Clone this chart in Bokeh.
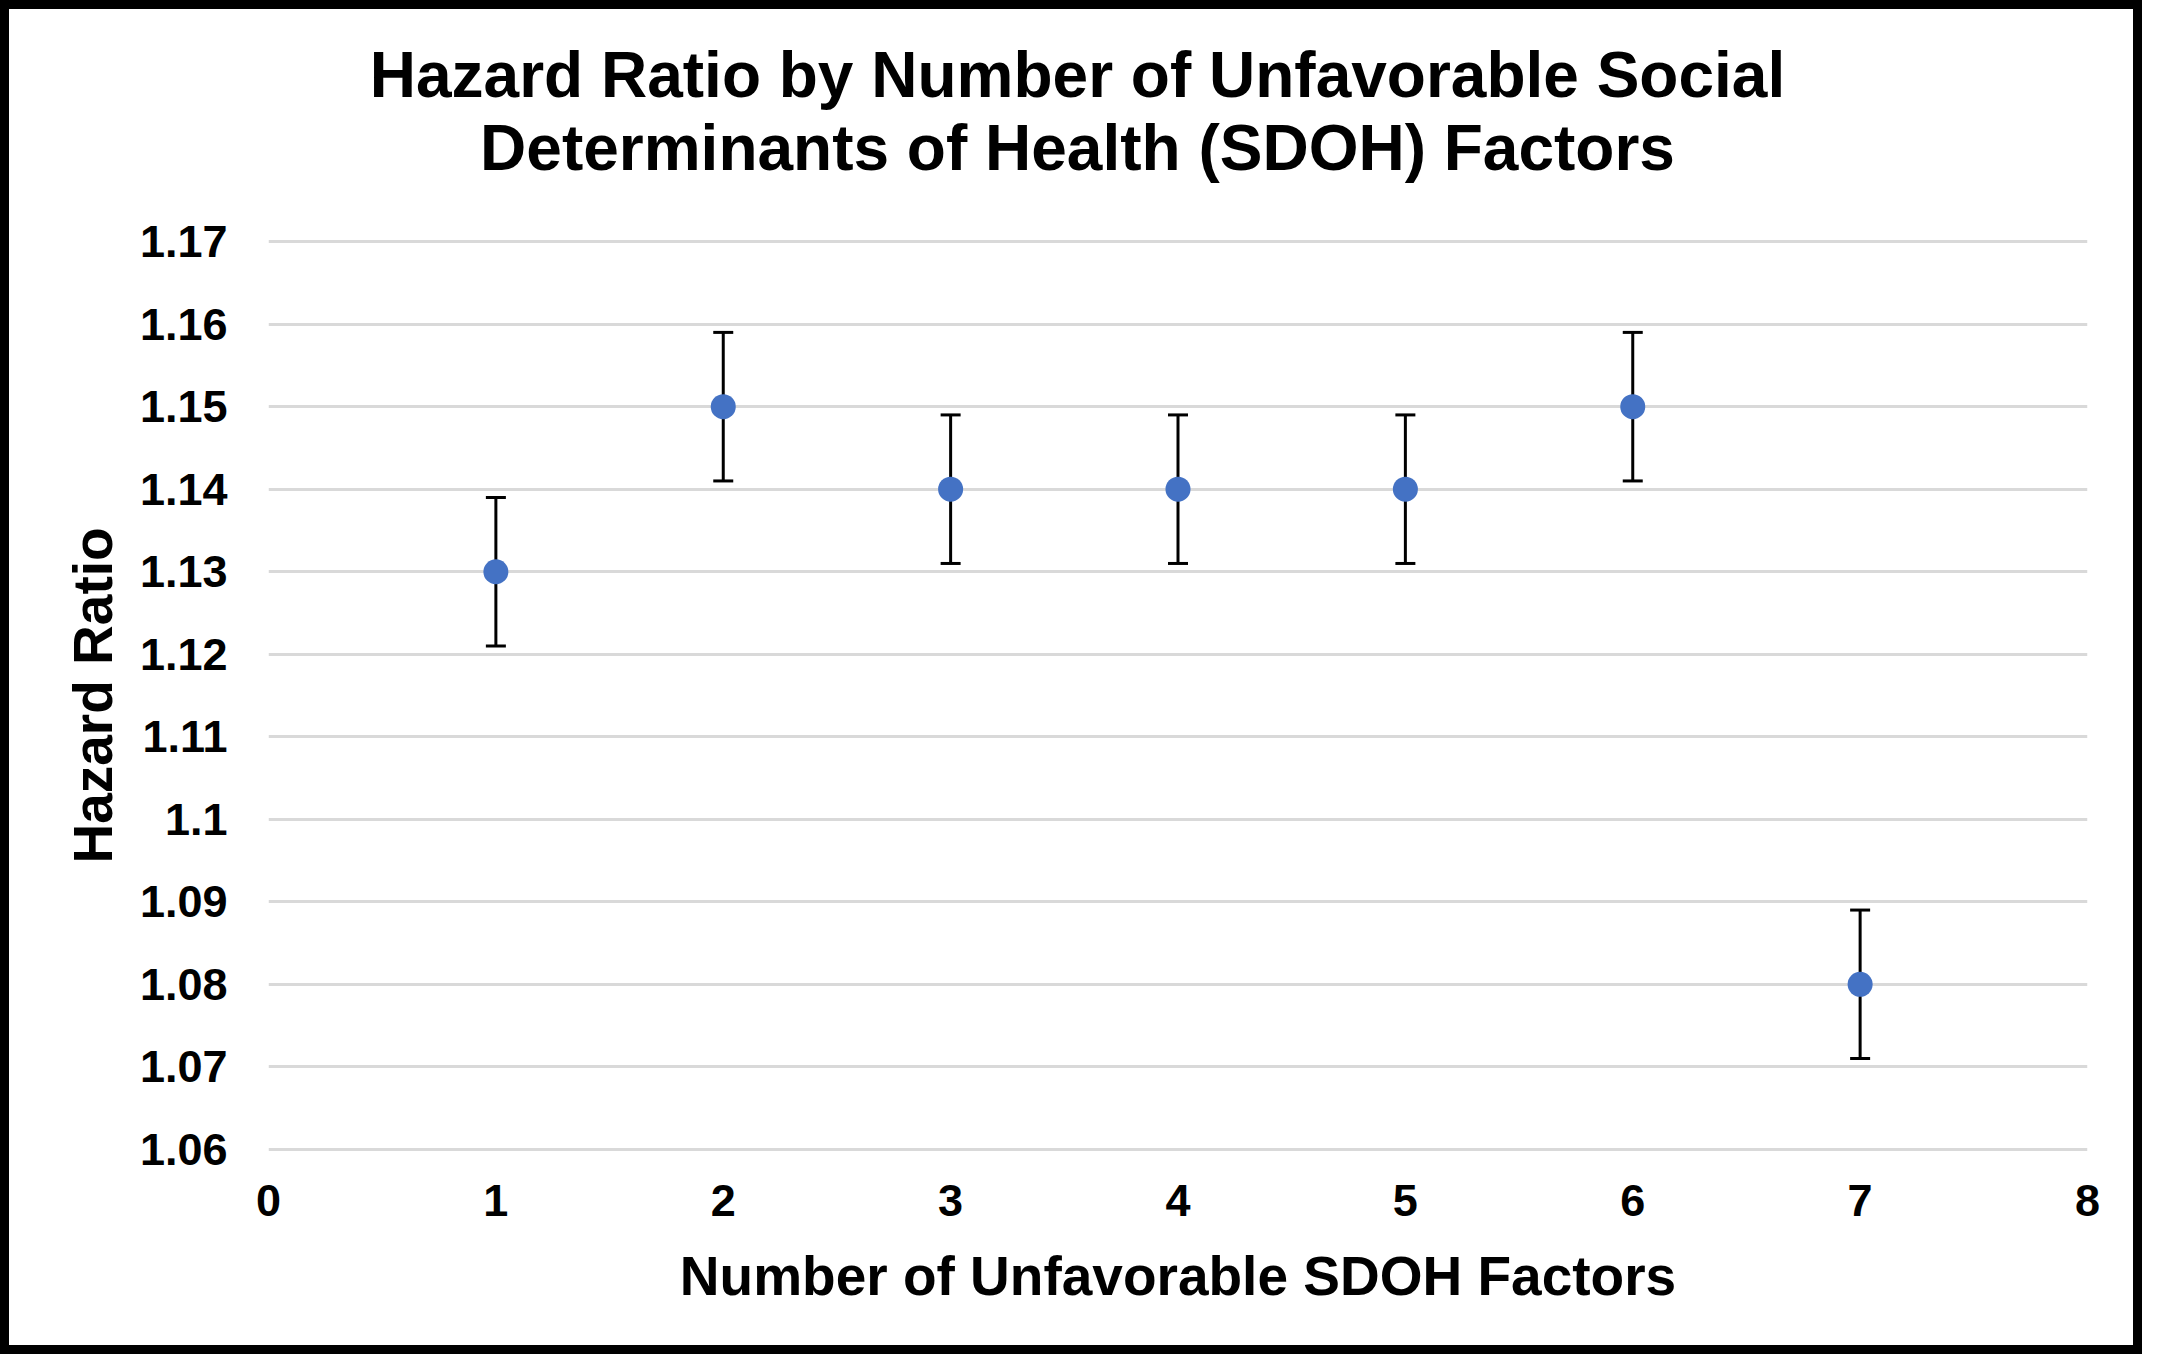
from bokeh.plotting import figure
from bokeh.layouts import column
from bokeh.models import (ColumnDataSource, Whisker, TeeHead, FixedTicker, Label, Range1d)
from bokeh.embed import file_html
from bokeh.resources import INLINE

# ---- data ----
factors = [1, 2, 3, 4, 5, 6, 7]
hazard_ratio = [1.13, 1.15, 1.14, 1.14, 1.14, 1.15, 1.08]
ci_lower = [1.121, 1.141, 1.131, 1.131, 1.131, 1.141, 1.071]
ci_upper = [1.139, 1.159, 1.149, 1.149, 1.149, 1.159, 1.089]

x_ticks = [0, 1, 2, 3, 4, 5, 6, 7, 8]
y_ticks = [1.06, 1.07, 1.08, 1.09, 1.1, 1.11, 1.12, 1.13, 1.14, 1.15, 1.16, 1.17]
y_tick_labels = ["1.06", "1.07", "1.08", "1.09", "1.1", "1.11", "1.12",
                 "1.13", "1.14", "1.15", "1.16", "1.17"]

title_lines = ["Hazard Ratio by Number of Unfavorable Social",
               "Determinants of Health (SDOH) Factors"]
x_title = "Number of Unfavorable SDOH Factors"
y_title = "Hazard Ratio"

FONT = "Liberation Sans"
W = 2142
TITLE_H = 200
MAIN_H = 1354 - TITLE_H
BORDER = "9px solid black"

# ---- title strip ----
t = figure(width=W, height=TITLE_H, output_backend="svg", toolbar_location=None,
           x_range=Range1d(0, 1), y_range=Range1d(0, 1),
           x_axis_type=None, y_axis_type=None, min_border=0)
t.outline_line_color = None
t.background_fill_color = "white"
t.border_fill_color = "white"
t.styles = {"border-top": BORDER, "border-left": BORDER, "border-right": BORDER}
for txt, yy in zip(title_lines, [135, 62]):
    t.add_layout(Label(x=809, y=yy, x_units="screen", y_units="screen", text=txt,
                       text_align="center", text_baseline="alphabetic",
                       text_font=FONT, text_font_style="bold", text_font_size="64px",
                       text_color="black"))

# ---- main chart ----
src = ColumnDataSource(dict(x=factors, y=hazard_ratio, lo=ci_lower, hi=ci_upper))

p = figure(width=W, height=MAIN_H, output_backend="svg", toolbar_location=None,
           x_range=Range1d(0, 8), y_range=Range1d(1.0595, 1.1705),
           min_border_left=259, min_border_right=64, min_border_top=37, min_border_bottom=201)
p.styles = {"border-bottom": BORDER, "border-left": BORDER, "border-right": BORDER}
p.background_fill_color = "white"
p.border_fill_color = "white"
p.outline_line_color = None

p.xaxis.ticker = FixedTicker(ticks=x_ticks)
p.yaxis.ticker = FixedTicker(ticks=y_ticks)
p.yaxis.major_label_overrides = {tk: lb for tk, lb in zip(y_ticks, y_tick_labels)}
for ax in (p.xaxis[0], p.yaxis[0]):
    ax.axis_line_color = None
    ax.major_tick_line_color = None
    ax.minor_tick_line_color = None
    ax.major_tick_out = 0
    ax.major_tick_in = 0
    ax.major_label_text_font = FONT
    ax.major_label_text_font_style = "bold"
    ax.major_label_text_font_size = "45px"
    ax.major_label_text_color = "black"
    ax.axis_label_text_font = FONT
    ax.axis_label_text_font_style = "bold"
    ax.axis_label_text_font_size = "55px"
    ax.axis_label_text_color = "black"
p.xaxis.axis_label = x_title
p.yaxis.axis_label = y_title
p.xaxis.major_label_standoff = 31
p.xaxis.axis_label_standoff = 26
p.yaxis.major_label_standoff = 41
p.yaxis.axis_label_standoff = 13

p.xgrid.grid_line_color = None
p.ygrid.grid_line_color = "#D9D9D9"
p.ygrid.grid_line_width = 3
p.ygrid.ticker = FixedTicker(ticks=y_ticks)

w = Whisker(base="x", lower="lo", upper="hi", source=src, dimension="height",
            line_color="black", line_width=3, level="underlay",
            upper_head=TeeHead(size=20, line_color="black", line_width=3),
            lower_head=TeeHead(size=20, line_color="black", line_width=3))
p.add_layout(w)

p.scatter("x", "y", source=src, size=25, fill_color="#4472C4", line_color=None)

layout = column(t, p, spacing=0)
open("out.html", "w").write(file_html(layout, INLINE))
